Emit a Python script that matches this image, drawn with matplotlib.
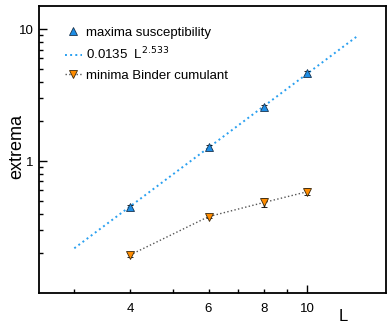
import numpy as np
import matplotlib
matplotlib.use("Agg")
import matplotlib.pyplot as plt
from matplotlib.lines import Line2D
from matplotlib.ticker import FixedLocator, NullFormatter, FixedFormatter

plt.rcParams['font.family'] = ['Liberation Sans', 'DejaVu Sans']

# data
L = [4, 6, 8, 10]
chi_max = [0.448, 1.28, 2.58, 4.64]
chi_err = [0.02, 0.04, 0.08, 0.15]
binder_min = [0.194, 0.379, 0.486, 0.586]
binder_err = [0.008, 0.012, 0.04, 0.035]

fit_a = 0.0135
fit_b = 2.533
fit_L = np.linspace(3, 13, 50)

blue = '#1e8ee6'
orange = '#ff8c00'

fig = plt.figure(figsize=(3.92, 3.27), dpi=100)
ax = fig.add_axes([0.0995, 0.104, 0.885, 0.878])

ax.errorbar(L, chi_max, yerr=chi_err, fmt='^', color=blue, mec='#1a3550',
            mew=0.6, ms=5.5, ecolor='black', elinewidth=1, capsize=2.5,
            capthick=1, zorder=3)
ax.plot(fit_L, fit_a * fit_L ** fit_b, ':', color='#2aa0f0', lw=1.4)
ax.errorbar(L, binder_min, yerr=binder_err, fmt='v', ls=':', lw=1,
            color='#555555', mfc=orange, mec='#3a2a10', mew=0.6, ms=5.5,
            ecolor='black', elinewidth=1, capsize=2.5, capthick=1, zorder=3)

ax.set_xscale('log')
ax.set_yscale('log')
ax.set_xlim(2.5, 15)
ax.set_ylim(0.1, 15)

ax.xaxis.set_major_locator(FixedLocator([10]))
ax.xaxis.set_minor_locator(FixedLocator([3, 4, 5, 6, 7, 8, 9]))
ax.xaxis.set_major_formatter(FixedFormatter(['10']))
ax.xaxis.set_minor_formatter(FixedFormatter(['', '4', '', '6', '', '8', '']))

ax.yaxis.set_major_locator(FixedLocator([1, 10]))
ax.yaxis.set_major_formatter(FixedFormatter(['1', '10']))
ax.yaxis.set_minor_locator(FixedLocator(
    [0.2, 0.3, 0.4, 0.5, 0.6, 0.7, 0.8, 0.9, 2, 3, 4, 5, 6, 7, 8, 9]))
ax.yaxis.set_minor_formatter(NullFormatter())

ax.tick_params(which='both', direction='in', labelsize=9.5, width=1)
ax.tick_params(which='major', length=6)
ax.tick_params(which='minor', length=3)
ax.tick_params(axis='x', which='both', pad=7)
ax.tick_params(axis='y', which='both', pad=4)
for s in ax.spines.values():
    s.set_linewidth(1.3)

ax.set_ylabel('extrema', fontsize=13)
ax.yaxis.set_label_coords(-0.04, 0.51)
ax.set_xlabel('L', fontsize=12)
ax.xaxis.set_label_coords(0.878, -0.055)

handles = [
    Line2D([], [], ls='none', marker='^', color=blue, mec='#1a3550',
           mew=0.6, ms=5.5),
    Line2D([], [], ls=':', color='#2aa0f0', lw=1.4),
    Line2D([], [], ls=':', lw=1, color='#555555', marker='v', mfc=orange,
           mec='#3a2a10', mew=0.6, ms=5.5),
]
labels = ['maxima susceptibility', '0.0135  L$^{2.533}$',
          'minima Binder cumulant']
ax.legend(handles, labels, loc='upper left', bbox_to_anchor=(0.04, 0.97),
          frameon=False, fontsize=9.5, handlelength=1.3, handletextpad=0.3,
          labelspacing=0.55)

fig.savefig('out.png', dpi=100)
